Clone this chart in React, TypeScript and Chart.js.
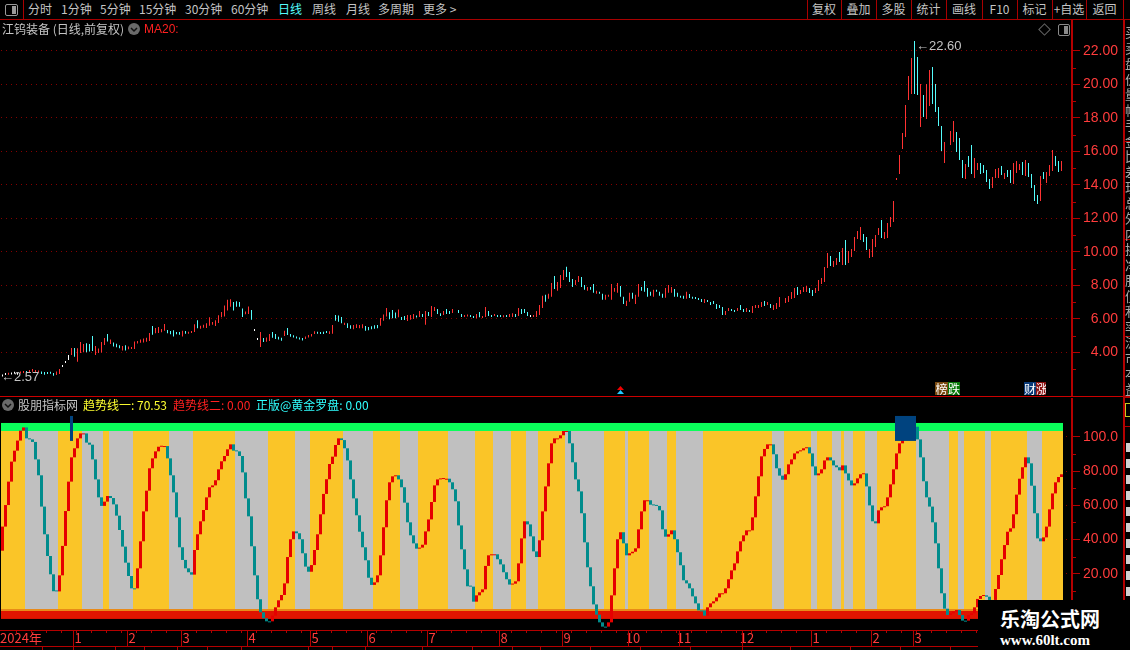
import React, { useEffect, useRef } from "react";
import { Chart, registerables } from "chart.js";
Chart.register(...registerables);

// ---------- data ----------
const tabs: [string, number][] = [["分时", 28], ["1分钟", 61], ["5分钟", 100], ["15分钟", 139], ["30分钟", 185], ["60分钟", 231], ["日线", 278], ["周线", 312], ["月线", 346], ["多周期", 378], ["更多 >", 423]];
const buttons = ["复权", "叠加", "多股", "统计", "画线", "F10", "标记", "+自选", "返回"];
const priceLabels = [4, 6, 8, 10, 12, 14, 16, 18, 20, 22];
const priceTicks = [3, 4, 5, 6, 7, 8, 9, 10, 11, 12, 13, 14, 15, 16, 17, 18, 19, 20, 21, 22];
const indicatorTicks = [0, 10, 20, 30, 40, 50, 60, 70, 80, 90, 100];
const indicatorLabels = [20, 40, 60, 80, 100];
const monthBars = [24, 42, 60, 82, 103, 122, 142, 166, 187, 209, 226, 247, 270, 290, 304];
const monthNames = ["1", "2", "3", "4", "5", "6", "7", "8", "9", "10", "11", "12", "1", "2", "3"];
const yearLabel = "2024年";

const highs: (number | null)[] = [
2.69,2.71,2.75,2.77,2.81,2.75,2.85,2.87,2.89,2.95,
3.01,2.95,2.93,2.87,2.83,2.79,2.79,2.77,2.87,3.01,
3.19,3.49,3.85,4.27,4.27,4.25,4.62,4.51,4.55,4.51,
4.98,4.39,4.23,4.62,4.86,5.10,4.78,4.60,4.52,4.43,
4.39,4.43,4.35,4.31,4.66,4.68,4.78,4.84,4.88,5.16,
5.58,5.46,5.52,5.40,5.70,5.34,5.28,5.32,5.22,5.22,
5.30,5.28,5.18,5.24,5.68,5.92,5.60,5.66,5.74,6.10,
5.82,5.92,6.22,6.42,6.81,7.15,7.17,7.01,7.05,7.01,
6.63,6.44,6.75,6.53,5.32,4.78,5.22,4.86,4.90,5.10,
5.22,5.10,4.94,4.88,5.30,5.46,5.10,5.02,4.94,4.86,
4.86,4.96,5.04,5.10,5.26,5.24,5.22,5.24,5.28,5.26,
5.64,6.24,6.20,6.12,5.78,5.74,5.62,5.64,5.68,5.64,
5.68,5.58,5.52,5.56,5.62,5.64,6.06,6.26,6.65,6.40,
6.53,6.38,6.57,6.12,6.18,6.24,6.24,6.30,6.16,6.48,
6.30,6.48,6.42,6.78,6.72,6.60,6.34,6.48,6.60,6.48,
6.60,null,6.54,6.30,6.24,6.18,6.24,6.18,6.30,6.42,
6.18,6.72,6.48,6.24,6.28,6.18,6.18,6.18,6.18,6.30,
6.34,6.30,6.66,6.60,6.60,6.42,6.18,6.18,6.48,6.84,
7.38,7.44,7.50,8.15,8.57,8.21,8.63,8.93,9.11,8.81,
8.39,8.33,8.57,8.51,8.03,7.91,7.91,8.09,7.68,7.62,
7.50,7.44,7.44,8.09,7.85,8.15,7.97,7.32,7.08,7.56,
7.56,7.44,8.09,7.91,8.27,7.85,7.62,7.74,7.74,7.62,
7.50,7.85,8.03,7.91,7.79,7.56,7.38,7.38,7.62,7.49,
7.33,7.31,7.25,7.19,7.19,7.13,7.01,7.07,6.89,6.83,
6.71,6.48,6.65,6.59,6.53,6.65,6.83,6.59,6.65,6.53,
6.77,6.83,6.83,7.01,7.07,7.01,6.89,6.83,6.95,7.31,
null,7.25,7.37,7.61,7.85,7.91,7.73,7.91,7.97,7.85,
7.73,7.85,8.33,8.45,9.10,9.94,9.76,9.46,9.64,10.0,
10.24,10.71,10.06,10.18,10.89,11.25,11.49,11.07,10.89,10.18,
10.77,11.01,11.43,11.91,11.19,11.73,12.09,13.04,14.36,15.79,
17.10,18.77,20.50,21.58,22.60,21.64,20.03,19.37,20.03,20.86,
21.04,20.03,18.65,17.52,16.56,null,17.22,17.82,17.16,16.80,
15.49,15.25,15.73,16.38,15.61,15.31,15.31,15.19,14.89,14.35,
14.47,14.95,15.01,15.13,14.71,14.89,14.89,15.31,15.43,15.25,
15.37,15.49,15.31,14.65,14.00,13.40,14.53,14.77,14.77,15.19,
16.09,15.73,15.43,15.43];

const lows: (number | null)[] = [
2.57,2.65,2.67,2.69,2.73,2.67,2.75,2.77,2.77,2.83,
2.85,2.83,2.79,2.71,2.67,2.71,2.73,2.61,2.65,2.71,
3.13,3.37,3.55,3.85,3.75,3.45,3.97,4.01,4.01,4.05,
4.09,3.85,3.97,3.99,4.45,4.66,4.51,4.35,4.31,4.25,
4.11,4.11,4.19,4.21,4.21,4.54,4.58,4.60,4.64,4.68,
5.06,5.14,5.16,5.20,5.30,5.14,5.08,4.96,5.08,5.06,
4.96,5.12,5.12,5.16,5.22,5.44,5.42,5.48,5.46,5.60,
5.66,5.58,5.76,6.10,6.14,6.50,6.73,6.50,6.73,6.73,
6.12,6.28,6.30,5.96,5.28,4.74,4.33,4.62,4.64,4.68,
4.88,4.80,4.78,4.70,4.98,5.04,4.94,4.90,4.84,4.78,
4.72,4.80,4.90,4.96,5.10,5.12,5.10,5.10,5.16,5.10,
5.12,5.90,5.84,5.74,5.64,5.46,5.42,5.38,5.46,5.44,
5.44,5.30,5.32,5.38,5.42,5.44,5.60,5.90,6.14,5.98,
6.04,6.04,6.10,5.94,5.94,5.88,5.96,6.00,6.08,6.12,
6.12,5.65,6.18,6.12,6.48,6.30,6.18,6.24,6.30,6.30,
6.36,null,6.36,6.12,6.12,6.14,6.12,6.06,6.04,6.10,
6.06,6.12,6.18,6.12,6.18,6.12,6.12,6.10,6.12,6.12,
6.12,6.12,6.18,6.30,6.36,6.18,6.12,6.12,6.12,6.24,
6.66,7.02,7.20,7.32,7.79,7.68,7.85,8.33,8.51,8.21,
7.91,8.03,8.21,7.91,7.74,7.68,7.74,7.56,7.50,7.50,
7.14,7.14,7.32,7.14,7.62,7.56,7.32,6.90,6.78,7.02,
7.20,6.90,7.32,7.68,7.62,7.32,7.38,7.32,7.62,7.38,
7.26,7.26,7.56,7.56,7.32,7.32,7.26,7.20,7.20,7.25,
7.21,7.19,7.13,7.01,6.95,7.01,6.83,6.89,6.59,6.65,
6.24,6.24,6.48,6.48,6.42,6.48,6.53,6.42,6.42,6.42,
6.36,6.65,6.65,6.71,6.77,6.83,6.65,6.53,6.59,6.71,
null,6.95,7.01,7.19,7.25,7.43,7.49,7.61,7.61,7.55,
7.37,7.55,7.67,8.09,8.21,9.04,9.16,9.10,9.22,9.40,
9.22,9.22,9.34,9.70,10.06,10.77,10.71,10.59,10.12,9.64,
9.70,10.30,11.01,10.83,10.77,10.83,11.49,11.79,14.30,14.65,
16.15,16.86,19.07,19.43,19.43,19.37,17.46,18.06,17.94,18.71,
18.83,18.35,17.52,16.03,15.31,null,16.38,16.56,15.97,15.49,
14.41,14.35,15.07,14.65,14.41,14.89,14.65,14.71,14.18,13.76,
13.82,14.41,14.41,14.59,14.35,14.47,14.12,14.06,14.71,14.89,
14.59,14.53,14.47,13.82,13.04,12.86,13.04,14.35,14.12,14.53,
14.83,15.13,14.77,14.83];

// r = up, c = down, w = flat, - = no bar
const candleKinds =
"wwrwwwrrcr" + "rrrcccccrr" + "wwwrcrrrcc" + "crrrrcrccc" + "rcrrrrrrrr" + "crrrrccccc" +
"rcrrrcrrrr" + "rrrrrrrccc" + "crrcwwrcrr" + "ccccrccccc" + "crrrrccccr" + "rcccrccrrr" +
"rcccccrrrc" + "ccrccrrrcr" + "crcrrccrcc" + "r-ccrrccrc" + "rrccrccrcr" + "rcrcccwrrr" +
"rcrrcrrrcc" + "crrccrccrc" + "crrrrrccrr" + "crrccccrcc" + "crrrccccrc" + "ccccrccccc" +
"crrccrccrc" + "rrrrcrcrrr" + "-rrrrcrrrc" + "crrrrrcrrc" + "rcrrrrrccr" + "rrrcrrrrrr" +
"rrrrccrcrr" + "ccccr-rrcc" + "crccrrcccc" + "rrrcrccrrr" + "crccccrcrr" + "rccr";

const trendStart = 33.5;
const trend = [
47.6,60.2,73.9,85.6,92.0,97.9,103.7,105.6,99.2,98.6,
97.1,86.9,77.6,59.3,43.1,30.4,19.7,9.8,9.7,19.1,
36.3,56.7,73.9,88.1,93.4,99.2,102.1,102.1,96.7,95.5,
86.9,75.2,64.7,59.7,62.2,65.5,64.3,60.6,54.0,45.6,
35.9,26.5,18.7,11.5,11.5,23.2,39.0,56.5,68.6,81.7,
87.5,91.6,94.3,94.7,94.7,87.5,77.6,67.6,53.0,35.5,
28.1,23.2,20.9,19.5,33.9,43.1,50.7,57.3,64.7,70.6,
71.7,74.7,81.1,85.8,88.9,92.8,95.7,92.0,91.6,88.9,
79.3,64.1,53.6,36.1,19.1,5.1,-2.5,-6.0,-7.8,-7.8,
-4.5,0.4,4.5,7.6,14.4,29.8,40.2,44.8,43.7,40.2,
32.0,24.2,21.2,25.1,33.9,43.1,54.8,66.7,75.3,84.2,
88.5,95.3,99.2,98.2,93.4,86.3,75.2,64.1,54.2,44.6,
35.5,27.9,17.7,13.5,15.0,19.1,30.8,47.2,63.0,73.5,
77.0,77.6,75.2,70.6,61.6,50.1,42.5,37.8,34.7,35.3,
37.0,44.8,51.8,62.0,71.7,75.2,75.4,75.6,75.6,73.5,
69.4,62.4,48.3,34.3,22.6,12.7,12.5,3.7,7.4,9.2,
10.9,24.6,30.8,31.4,31.4,28.5,25.5,20.9,16.8,13.7,
14.2,15.6,26.1,40.7,50.7,48.9,41.9,33.1,29.8,39.6,
56.5,71.1,84.6,96.3,99.2,99.2,101.0,103.5,103.5,96.3,
85.2,75.2,68.2,55.4,38.4,23.8,12.7,2.1,-3.9,-8.4,
-10.9,-10.9,-8.4,7.4,23.2,40.2,44.3,37.8,30.8,32.0,
32.9,34.9,46.0,56.5,63.0,63.0,60.4,60.0,59.7,57.1,
46.0,41.7,43.1,45.4,40.2,32.6,25.0,16.2,14.4,11.5,
6.8,2.7,-1.4,-1.4,-4.5,0.4,2.7,3.9,6.2,8.6,
8.6,11.5,16.8,22.0,26.1,33.1,39.0,42.5,45.4,45.4,
53.0,65.3,77.0,88.7,93.0,95.7,95.7,89.9,81.7,77.4,
75.0,78.2,84.0,86.9,90.4,91.6,92.2,93.4,94.0,90.4,
82.8,77.6,78.7,81.1,86.3,88.1,86.3,83.4,82.3,80.5,
83.4,78.7,74.6,71.7,72.9,75.8,78.2,78.7,71.1,60.0,
50.7,49.5,57.1,58.9,59.5,64.7,72.3,81.1,90.4,96.3,
101.2,106.0,108.0,108.0,106.0,98.6,88.1,74.1,64.7,59.3,
50.1,37.8,23.2,8.6,-0.4,-4.1,-3.1,-2.1,-1.2,-4.1,
-7.4,-7.4,-4.1,-3.1,0.4,5.3,7.0,7.4,6.6,4.7,
4.7,11.1,19.3,28.5,36.8,44.6,46.6,54.8,66.3,75.6,
82.3,88.1,84.6,71.5,55.4,40.7,39.0,41.3,47.6,57.7,
67.0,73.5,76.6,78.2];

// runs of bars, alternately gold then grey, starting with gold
const stripeRuns = [8,11,8,7,2,8,12,8,14,11,9,5,11,10,9,6,10,9,6,6,5,4,9,13,7,1,7,6,3,9,23,4,9,2,5,3,1,3,4,4,13,11,3,2,7,2,12,5,7];

const bandTop = 108.2, bandMid = 103.5, stripeBase = -0.6, orangeBase = -1.75, redBase = -6.4;
const markerBars = [23, 298, 299, 300, 301, 302, 303, 304];
const markerLow = 97.7, markerHigh = 112.3;
const legendTrend1 = "70.53", legendTrend2 = "0.00", legendCompass = "0.00";

// ---------- styling ----------
const RED_LINE = "#a80000";
const AXIS_RED = "#b40000";
const LABEL_RED = "#ff3c3c";
const GRID_RED = "#860000";
const GRAY = "#c4c4c4";
const CJK = "'Noto Sans CJK SC', 'Liberation Sans', sans-serif";
const LATIN = "'Liberation Sans', 'Noto Sans CJK SC', sans-serif";
const BAR_COUNT = trend.length;
const xMin = -0.5, xMax = 356.5;

const allBars = trend.map((_, i) => i);

function noPadding(s: any) {
  s.paddingLeft = 0;
  s.paddingRight = 0;
  s.paddingTop = 0;
  s.paddingBottom = 0;
}

function shortTicks(values: number[]) {
  return {
    id: "shortTicks",
    afterDraw(chart: any) {
      const s = chart.scales.y, c = chart.ctx;
      c.save();
      c.fillStyle = AXIS_RED;
      for (const v of values) c.fillRect(s.left + 1, Math.round(s.getPixelForValue(v)), 3, 1);
      c.restore();
    },
  };
}

function makePriceChart(canvas: HTMLCanvasElement) {
  const data = allBars.map((i) => ({ x: i, y: highs[i] === null ? null : [lows[i], highs[i]] }));
  const colors = allBars.map((i) => {
    const k = candleKinds[i];
    return k === "r" ? "#ff3232" : k === "c" ? "#54fcfc" : "#ffffff";
  });
  const odd = priceTicks.filter((v) => !priceLabels.includes(v));
  return new Chart(canvas, {
    type: "bar",
    data: { datasets: [{ data, backgroundColor: colors, barThickness: 1, minBarLength: 2, inflateAmount: 0, grouped: false } as any] },
    plugins: [shortTicks(odd)],
    options: {
      animation: false,
      responsive: false,
      devicePixelRatio: 1,
      events: [],
      layout: { autoPadding: false, padding: { left: 1, top: 0, right: 0, bottom: 0 } },
      plugins: { legend: { display: false }, tooltip: { enabled: false } },
      scales: {
        x: { type: "linear", min: xMin, max: xMax, display: false, offset: false, grid: { display: false } },
        y: {
          position: "right",
          min: 1.4,
          max: 23.85,
          afterFit: (s: any) => { s.width = 46; noPadding(s); },
          afterBuildTicks: (s: any) => { s.ticks = priceTicks.map((value) => ({ value })); },
          border: { color: AXIS_RED, width: 2, dash: [1, 4] },
          grid: {
            color: (c: any) => (priceLabels.includes(c.tick?.value) ? GRID_RED : "rgba(0,0,0,0)"),
            tickColor: (c: any) => (priceLabels.includes(c.tick?.value) ? AXIS_RED : "rgba(0,0,0,0)"),
            tickLength: 8,
            lineWidth: 1,
          },
          ticks: {
            color: LABEL_RED,
            font: { family: LATIN, size: 14 },
            padding: 7,
            crossAlign: "far",
            autoSkip: false,
            callback: (v: any) => (priceLabels.includes(v) ? Number(v).toFixed(2) : ""),
          },
        } as any,
      },
    },
  });
}

function makeIndicatorChart(canvas: HTMLCanvasElement) {
  const stripeColors: string[] = [];
  stripeRuns.forEach((n, r) => { for (let k = 0; k < n; k++) stripeColors.push(r % 2 === 0 ? "#fac528" : "#c0c0c0"); });
  let rising = true;
  const lineColors = trend.map((v, i) => {
    const prev = i === 0 ? trendStart : trend[i - 1];
    if (v !== prev) rising = v > prev;
    return rising ? "#e60000" : "#008c8c";
  });
  const common = { barThickness: 3, inflateAmount: 0, grouped: false };
  const band = (lo: number, hi: number) => allBars.map((i) => ({ x: i, y: [lo, hi] }));
  const monthPlugin = {
    id: "dateStrip",
    afterDraw(chart: any) {
      const s = chart.scales.x, c = chart.ctx, top = s.top;
      c.save();
      c.fillStyle = AXIS_RED;
      for (let i = 5; i < BAR_COUNT; i += 5) c.fillRect(Math.round(s.getPixelForValue(i - 0.5)), top, 1, 3);
      for (const b of monthBars) c.fillRect(Math.round(s.getPixelForValue(b - 0.5)), top, 1, 16);
      c.restore();
    },
  };
  const tickList = [{ value: 4.5, label: yearLabel }, ...monthBars.map((b, i) => ({ value: b - 0.5, label: monthNames[i] }))];
  const odd = indicatorTicks.filter((v) => !indicatorLabels.includes(v));
  return new Chart(canvas, {
    type: "bar",
    data: {
      datasets: [
        { data: band(stripeBase, bandMid), backgroundColor: stripeColors, order: 6, ...common },
        { data: band(bandMid, bandTop), backgroundColor: "#0aff5a", order: 5, ...common },
        { data: band(orangeBase, stripeBase), backgroundColor: "#e88a18", order: 4, ...common },
        { data: band(redBase, orangeBase), backgroundColor: "#e01400", order: 3, ...common },
        { data: trend.map((v, i) => ({ x: i, y: [i === 0 ? trendStart : trend[i - 1], v] })), backgroundColor: lineColors, minBarLength: 1, order: 2, ...common },
        { data: markerBars.map((i) => ({ x: i, y: [markerLow, markerHigh] })), backgroundColor: "#00437f", order: 1, ...common },
      ] as any,
    },
    plugins: [shortTicks(odd), monthPlugin],
    options: {
      animation: false,
      responsive: false,
      devicePixelRatio: 1,
      events: [],
      layout: { autoPadding: false, padding: { left: 1, top: 0, right: 0, bottom: 0 } },
      plugins: { legend: { display: false }, tooltip: { enabled: false } },
      scales: {
        x: {
          type: "linear",
          min: xMin,
          max: xMax,
          position: "bottom",
          offset: false,
          afterFit: (s: any) => { s.height = 16; noPadding(s); },
          afterBuildTicks: (s: any) => { s.ticks = tickList.map((t) => ({ value: t.value })); },
          border: { color: AXIS_RED, width: 1 },
          grid: { display: false, drawTicks: false },
          ticks: {
            color: LABEL_RED,
            font: { family: CJK, size: 13 },
            maxRotation: 0,
            autoSkip: false,
            labelOffset: 5,
            padding: 0,
            callback: (v: any) => tickList.find((t) => t.value === v)?.label ?? "",
          },
        } as any,
        y: {
          position: "right",
          min: -12.87,
          max: 122.8,
          afterFit: (s: any) => { s.width = 46; noPadding(s); },
          afterBuildTicks: (s: any) => { s.ticks = indicatorTicks.map((value) => ({ value })); },
          border: { color: AXIS_RED, width: 2, dash: [1, 4] },
          grid: {
            color: (c: any) => (indicatorLabels.includes(c.tick?.value) ? GRID_RED : "rgba(0,0,0,0)"),
            tickColor: (c: any) => (indicatorLabels.includes(c.tick?.value) ? AXIS_RED : "rgba(0,0,0,0)"),
            tickLength: 8,
            lineWidth: 1,
          },
          ticks: {
            color: LABEL_RED,
            font: { family: LATIN, size: 14 },
            padding: 7,
            crossAlign: "far",
            autoSkip: false,
            callback: (v: any) => (v === 100 ? "100.0" : indicatorLabels.includes(v) ? Number(v).toFixed(2) : ""),
          },
        } as any,
      },
    },
  });
}

// ---------- page furniture ----------
function Text(p: { x: number; y: number; t: string; c?: string; s?: number; f?: string; w?: number; ls?: number }) {
  return (
    <div style={{ position: "absolute", left: p.x, top: p.y, color: p.c ?? GRAY, fontSize: p.s ?? 12, fontFamily: p.f ?? CJK, fontWeight: p.w ?? 400, lineHeight: "14px", whiteSpace: "nowrap", letterSpacing: p.ls ?? 0 }}>
      {p.t}
    </div>
  );
}
function Box(p: { x: number; y: number; w: number; h: number; c?: string; extra?: React.CSSProperties }) {
  return <div style={{ position: "absolute", left: p.x, top: p.y, width: p.w, height: p.h, background: p.c ?? RED_LINE, ...p.extra }} />;
}
function Dot(p: { x: number; y: number }) {
  return (
    <div style={{ position: "absolute", left: p.x, top: p.y, width: 12, height: 12, borderRadius: 6, background: "#6a6a6a" }}>
      <svg width="12" height="12" style={{ position: "absolute", left: 0, top: 0 }}><path d="M3 5 L6 8 L9 5" stroke="#111" strokeWidth="1.5" fill="none" /></svg>
    </div>
  );
}

const btnEdges = [807, 841, 876, 911, 946, 982, 1017, 1052, 1086, 1123];
const panelRows = ["买", "卖", "盘", "价", "量", "幅", "手", "金", "比", "差", "现", "总", "外", "内", "换", "净", "股", "值", "利", "率", "流", "市", "本", "益"];
const panelLines = [141, 239, 336, 426];
const footerEdges = [42, 73, 115, 144, 177, 207, 241, 308, 332, 365, 422, 472, 512, 540, 590, 640, 690, 742, 790, 850, 900, 950];

export default function App() {
  const top = useRef<HTMLCanvasElement>(null);
  const bottom = useRef<HTMLCanvasElement>(null);
  useEffect(() => {
    document.body.style.margin = "0";
    document.body.style.background = "#000";
    document.body.style.overflow = "hidden";
    const a = makePriceChart(top.current!);
    const b = makeIndicatorChart(bottom.current!);
    return () => { a.destroy(); b.destroy(); };
  }, []);
  return (
    <div style={{ position: "absolute", left: 0, top: 0, width: 1130, height: 650, background: "#000", overflow: "hidden" }}>
      <canvas ref={top} width={1118} height={376} style={{ position: "absolute", left: 0, top: 20, width: 1118, height: 376 }} />
      <canvas ref={bottom} width={1118} height={248} style={{ position: "absolute", left: 0, top: 398, width: 1118, height: 248 }} />

      {/* tool bar */}
      <Box x={0} y={19} w={1130} h={1} />
      <Box x={23} y={0} w={1} h={19} />
      <div style={{ position: "absolute", left: 5, top: 4, width: 11, height: 10, border: "1px solid #9a9a9a", borderRadius: 2 }}>
        <Box x={6} y={1} w={4} h={8} c="#9a9a9a" />
      </div>
      {tabs.map(([t, x]) => <Text key={t} x={x} y={2} t={t} c={t === "日线" ? "#54fcfc" : GRAY} />)}
      {btnEdges.map((x) => <Box key={x} x={x} y={0} w={1} h={19} />)}
      {buttons.map((t, i) => (
        <div key={t} style={{ position: "absolute", left: btnEdges[i], top: 2, width: btnEdges[i + 1] - btnEdges[i], textAlign: "center", color: GRAY, fontSize: 12, fontFamily: CJK, lineHeight: "14px" }}>{t}</div>
      ))}

      {/* price pane header */}
      <Text x={2} y={22} t="江钨装备 (日线,前复权)" />
      <Dot x={128} y={23} />
      <Text x={144} y={22} t="MA20:" c="#ff2020" f={LATIN} />
      <Box x={1040} y={25} w={7} h={7} c="transparent" extra={{ border: "1px solid #666", transform: "rotate(45deg)" }} />
      <div style={{ position: "absolute", left: 1058, top: 24, width: 10, height: 10, border: "1px solid #8a8a8a", borderRadius: 2 }}>
        <Box x={5} y={1} w={4} h={8} c="#8a8a8a" />
      </div>
      <Text x={916} y={39} t="←22.60" f={LATIN} s={13} />
      <Text x={1} y={370} t="←2.57" f={LATIN} s={13} />

      {/* event flags */}
      <div style={{ position: "absolute", left: 617, top: 386, width: 7, height: 4, background: "#f00000", clipPath: "polygon(50% 0,100% 100%,0 100%)" }} />
      <div style={{ position: "absolute", left: 617, top: 390, width: 7, height: 4, background: "#20c8ff", clipPath: "polygon(50% 0,100% 100%,0 100%)" }} />
      <div style={{ position: "absolute", left: 935, top: 382, width: 13, height: 13, background: "#7a4a10", color: "#fff", fontSize: 12, lineHeight: "13px", fontFamily: CJK, textAlign: "center" }}>榜</div>
      <div style={{ position: "absolute", left: 948, top: 382, width: 12, height: 13, background: "#0a780a", color: "#fff", fontSize: 12, lineHeight: "13px", fontFamily: CJK, textAlign: "center" }}>跌</div>
      <div style={{ position: "absolute", left: 1024, top: 382, width: 12, height: 13, background: "#0a3a78", color: "#fff", fontSize: 12, lineHeight: "13px", fontFamily: CJK, textAlign: "center", overflow: "hidden" }}>财</div>
      <div style={{ position: "absolute", left: 1036, top: 382, width: 10, height: 13, background: "#8a1010", color: "#fff", fontSize: 12, lineHeight: "13px", fontFamily: CJK, textAlign: "center", overflow: "hidden" }}>涨</div>

      {/* indicator header */}
      <Box x={0} y={396} w={1123} h={1} c="#cc0000" />
      <Dot x={2} y={399} />
      <Text x={18} y={398} t="股朋指标网" />
      <Text x={83} y={398} t={`趋势线一: ${legendTrend1}`} c="#ffff30" />
      <Text x={173} y={398} t={`趋势线二: ${legendTrend2}`} c="#ff2020" />
      <Text x={256} y={398} t={`正版@黄金罗盘: ${legendCompass}`} c="#30ffff" />

      {/* footer */}
      <Box x={0} y={630} w={1072} h={1} c={AXIS_RED} />
      <Box x={0} y={646} w={1072} h={1} c={AXIS_RED} />
      {footerEdges.map((x) => <Box key={x} x={x} y={646} w={1} h={4} c={AXIS_RED} />)}

      {/* right side panel, cut by the window edge */}
      <Box x={1123} y={20} w={2} h={630} c={AXIS_RED} />
      {panelLines.map((y) => <Box key={y} x={1123} y={y} w={7} h={1} c={AXIS_RED} />)}
      <Box x={1123} y={396} w={7} h={2} c={AXIS_RED} />
      <Box x={1125} y={403} w={6} h={12} c="transparent" extra={{ border: "1px solid #c8c820" }} />
      <div style={{ position: "absolute", left: 1125, top: 24, width: 5, height: 372, overflow: "hidden" }}>
        {panelRows.map((t, i) => <div key={i} style={{ position: "absolute", top: i * 15.5, left: 0, color: "#a8a8a8", fontSize: 13, lineHeight: "15px", fontFamily: CJK }}>{t}</div>)}
      </div>
      {[443, 459, 475, 491, 507, 523, 539, 555, 571, 587].map((y) => <Box key={y} x={1126} y={y} w={4} h={9} c="#d0d0d0" />)}

      {/* site watermark */}
      <Box x={978} y={600} w={152} h={50} c="#000" />
      <Text x={1000} y={612} t="乐淘公式网" c="#fff" s={20} w={700} />
      <Text x={1000} y={633} t="www.60lt.com" c="#fff" s={15} w={700} f="'Liberation Serif', serif" />
    </div>
  );
}
